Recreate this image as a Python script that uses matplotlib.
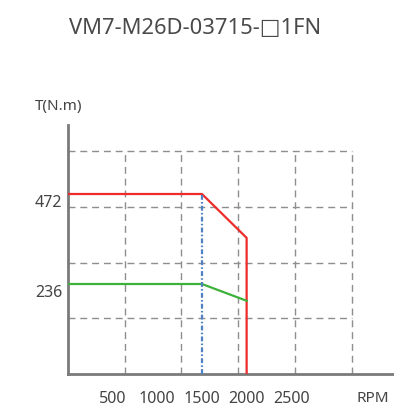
import matplotlib.pyplot as plt
from matplotlib.transforms import ScaledTranslation

plt.rcParams['font.family'] = ['Noto Sans', 'DejaVu Sans']

# Torque curves (speed in rpm, torque in N.m)
peak_rpm = [0, 1500, 2000, 2000]
peak_torque = [472, 472, 357, 0]
cont_rpm = [0, 1500, 2000]
cont_torque = [236, 236, 192]
rated_rpm = 1500

x_ticks = [500, 1000, 1500, 2000, 2500]
y_ticks = [236, 472]
grid_x = [635, 1270, 1905, 2540, 3175]
grid_y = [146, 292, 438, 584]

fig = plt.figure(figsize=(3.94, 4.13), dpi=100)
ax = fig.add_axes([0.1726, 0.0944, 0.8274, 0.603])
ax.set_xlim(0, 3650)
ax.set_ylim(0, 653)

# dashed background grid
grid_kw = dict(color='#8e8e8e', lw=1.0, linestyle=(0, (5, 3.5)), zorder=1)
ax.vlines(grid_x, 0, grid_y[-1], **grid_kw)
ax.hlines(grid_y, 0, grid_x[-1], **grid_kw)

ax.plot(peak_rpm, peak_torque, color='#ee2b2b', lw=1.6, zorder=3)
ax.plot(cont_rpm, cont_torque, color='#3db23a', lw=1.6, zorder=3)
ax.plot([rated_rpm, rated_rpm], [0, peak_torque[1]], color='#4f80c4', lw=1.6,
        linestyle=(0, (2.2, 1.0, 0.7, 1.0)), zorder=4)

for side in ['top', 'right']:
    ax.spines[side].set_visible(False)
for side in ['left', 'bottom']:
    ax.spines[side].set_color('#7a7a7a')
    ax.spines[side].set_linewidth(2.0)

ax.set_xticks(x_ticks)
ax.set_yticks(y_ticks)
ax.tick_params(axis='both', length=0, labelsize=11.5, labelcolor='#444444')
ax.tick_params(axis='x', pad=12)
ax.tick_params(axis='y', pad=4)
for lab in ax.get_yticklabels():
    lab.set_transform(lab.get_transform() + ScaledTranslation(0, -0.07, fig.dpi_scale_trans))

fig.text(0.494, 0.93, 'VM7-M26D-03715-\u25a11FN', ha='center', va='center',
         fontsize=15.8, color='#4a4a4a')
fig.text(0.150, 0.741, 'T(N.m)', ha='center', va='center', fontsize=11, color='#444444')
fig.text(0.947, 0.036, 'RPM', ha='center', va='center', fontsize=11, color='#444444')

fig.savefig('out.png', dpi=100)
